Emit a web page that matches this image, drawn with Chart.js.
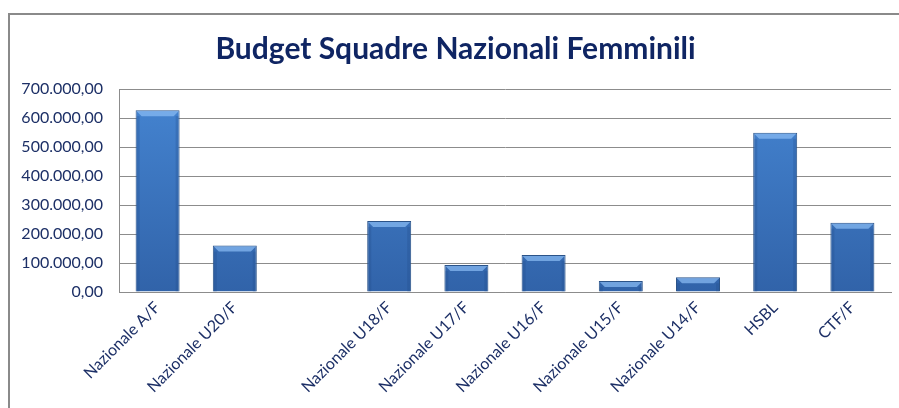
<!DOCTYPE html>
<html>
<head>
<meta charset="utf-8">
<script src="https://cdn.jsdelivr.net/npm/chart.js@4/dist/chart.umd.min.js"></script>
<style>
  html, body { margin: 0; padding: 0; background: #fff; overflow: hidden; }
  #wrap { position: relative; width: 899px; height: 408px; }
  #frame {
    position: absolute; left: 8px; top: 13px; width: 1000px; height: 500px;
    border-left: 2px solid #8a8a8a; border-top: 2px solid #8a8a8a;
  }
  canvas { position: absolute; left: 0; top: 0; }
</style>
</head>
<body>
<div id="wrap">
  <div id="frame"></div>
  <canvas id="chart" width="899" height="408"></canvas>
</div>
<script>
// categories (index 2 is an empty slot in the original sheet)
const categories = [
  'Nazionale A/F', 'Nazionale U20/F', '', 'Nazionale U18/F', 'Nazionale U17/F',
  'Nazionale U16/F', 'Nazionale U15/F', 'Nazionale U14/F', 'HSBL', 'CTF/F'
];
const budget = [627000, 160000, null, 245000, 93000, 128000, 38000, 51000, 549000, 239000];
const yTicks = [0, 100000, 200000, 300000, 400000, 500000, 600000, 700000];

const navy = '#1c2f66';
const labelFont = 'Lato, "Noto Sans", sans-serif';

// 700000 -> "700.000,00"
function fmt(v) {
  const s = Math.round(v).toString().replace(/\B(?=(\d{3})+(?!\d))/g, '.');
  return s + ',00';
}

// light bevel on top of each bar, like the Excel 3D style
const bevel = {
  id: 'bevel',
  afterDatasetsDraw(chart) {
    const ctx = chart.ctx;
    chart.getDatasetMeta(0).data.forEach((bar, i) => {
      if (budget[i] == null) return;
      const l = bar.x - bar.width / 2, r = bar.x + bar.width / 2;
      const t = bar.y, b = bar.base;
      const d = Math.min(5, (b - t) / 2);
      ctx.save();
      ctx.fillStyle = 'rgba(140,190,245,0.7)';
      ctx.beginPath();
      ctx.moveTo(l + 1, t + 1); ctx.lineTo(r - 1, t + 1);
      ctx.lineTo(r - 1 - d, t + 1 + d); ctx.lineTo(l + 1 + d, t + 1 + d);
      ctx.closePath(); ctx.fill();
      ctx.fillStyle = 'rgba(30,70,130,0.25)';
      ctx.fillRect(l + 1, t + 1 + d, 3, b - t - d - 1);
      ctx.fillRect(r - 4, t + 1 + d, 3, b - t - d - 1);
      ctx.restore();
    });
  }
};

const ctx = document.getElementById('chart').getContext('2d');
new Chart(ctx, {
  type: 'bar',
  data: {
    labels: categories,
    datasets: [{
      data: budget,
      backgroundColor: (c) => {
        const a = c.chart.chartArea;
        if (!a) return '#3b74c0';
        const g = c.chart.ctx.createLinearGradient(0, a.top, 0, a.bottom);
        g.addColorStop(0, '#4585d2');
        g.addColorStop(1, '#3163a9');
        return g;
      },
      borderColor: '#2b5388',
      borderWidth: 1,
      categoryPercentage: 1,
      barPercentage: 0.57
    }]
  },
  options: {
    responsive: false,
    animation: false,
    layout: { padding: { left: 20, right: 8, top: 0, bottom: 0 } },
    plugins: {
      legend: { display: false },
      tooltip: { enabled: false },
      title: {
        display: true,
        text: 'Budget Squadre Nazionali Femminili',
        color: '#0f2563',
        font: { family: labelFont, size: 30, weight: 'bold' },
        padding: { top: 31, bottom: 22 }
      }
    },
    scales: {
      x: {
        afterFit: (s) => { s.height = 116; },
        grid: { display: false, drawTicks: false },
        border: { display: true, color: '#8c8c8c', width: 1 },
        ticks: {
          color: navy,
          font: { family: labelFont, size: 16 },
          minRotation: 45, maxRotation: 45,
          autoSkip: false,
          padding: 6
        }
      },
      y: {
        min: 0, max: 700000,
        afterBuildTicks: (s) => { s.ticks = yTicks.map(v => ({ value: v })); },
        afterFit: (s) => { s.width = 99; },
        grid: { color: '#8c8c8c', drawTicks: false, lineWidth: 1 },
        border: { display: true, color: '#8c8c8c', width: 1 },
        ticks: {
          color: navy,
          font: { family: labelFont, size: 16 },
          padding: 16,
          callback: (v) => fmt(v)
        }
      }
    }
  },
  plugins: [bevel]
});
</script>
</body>
</html>
